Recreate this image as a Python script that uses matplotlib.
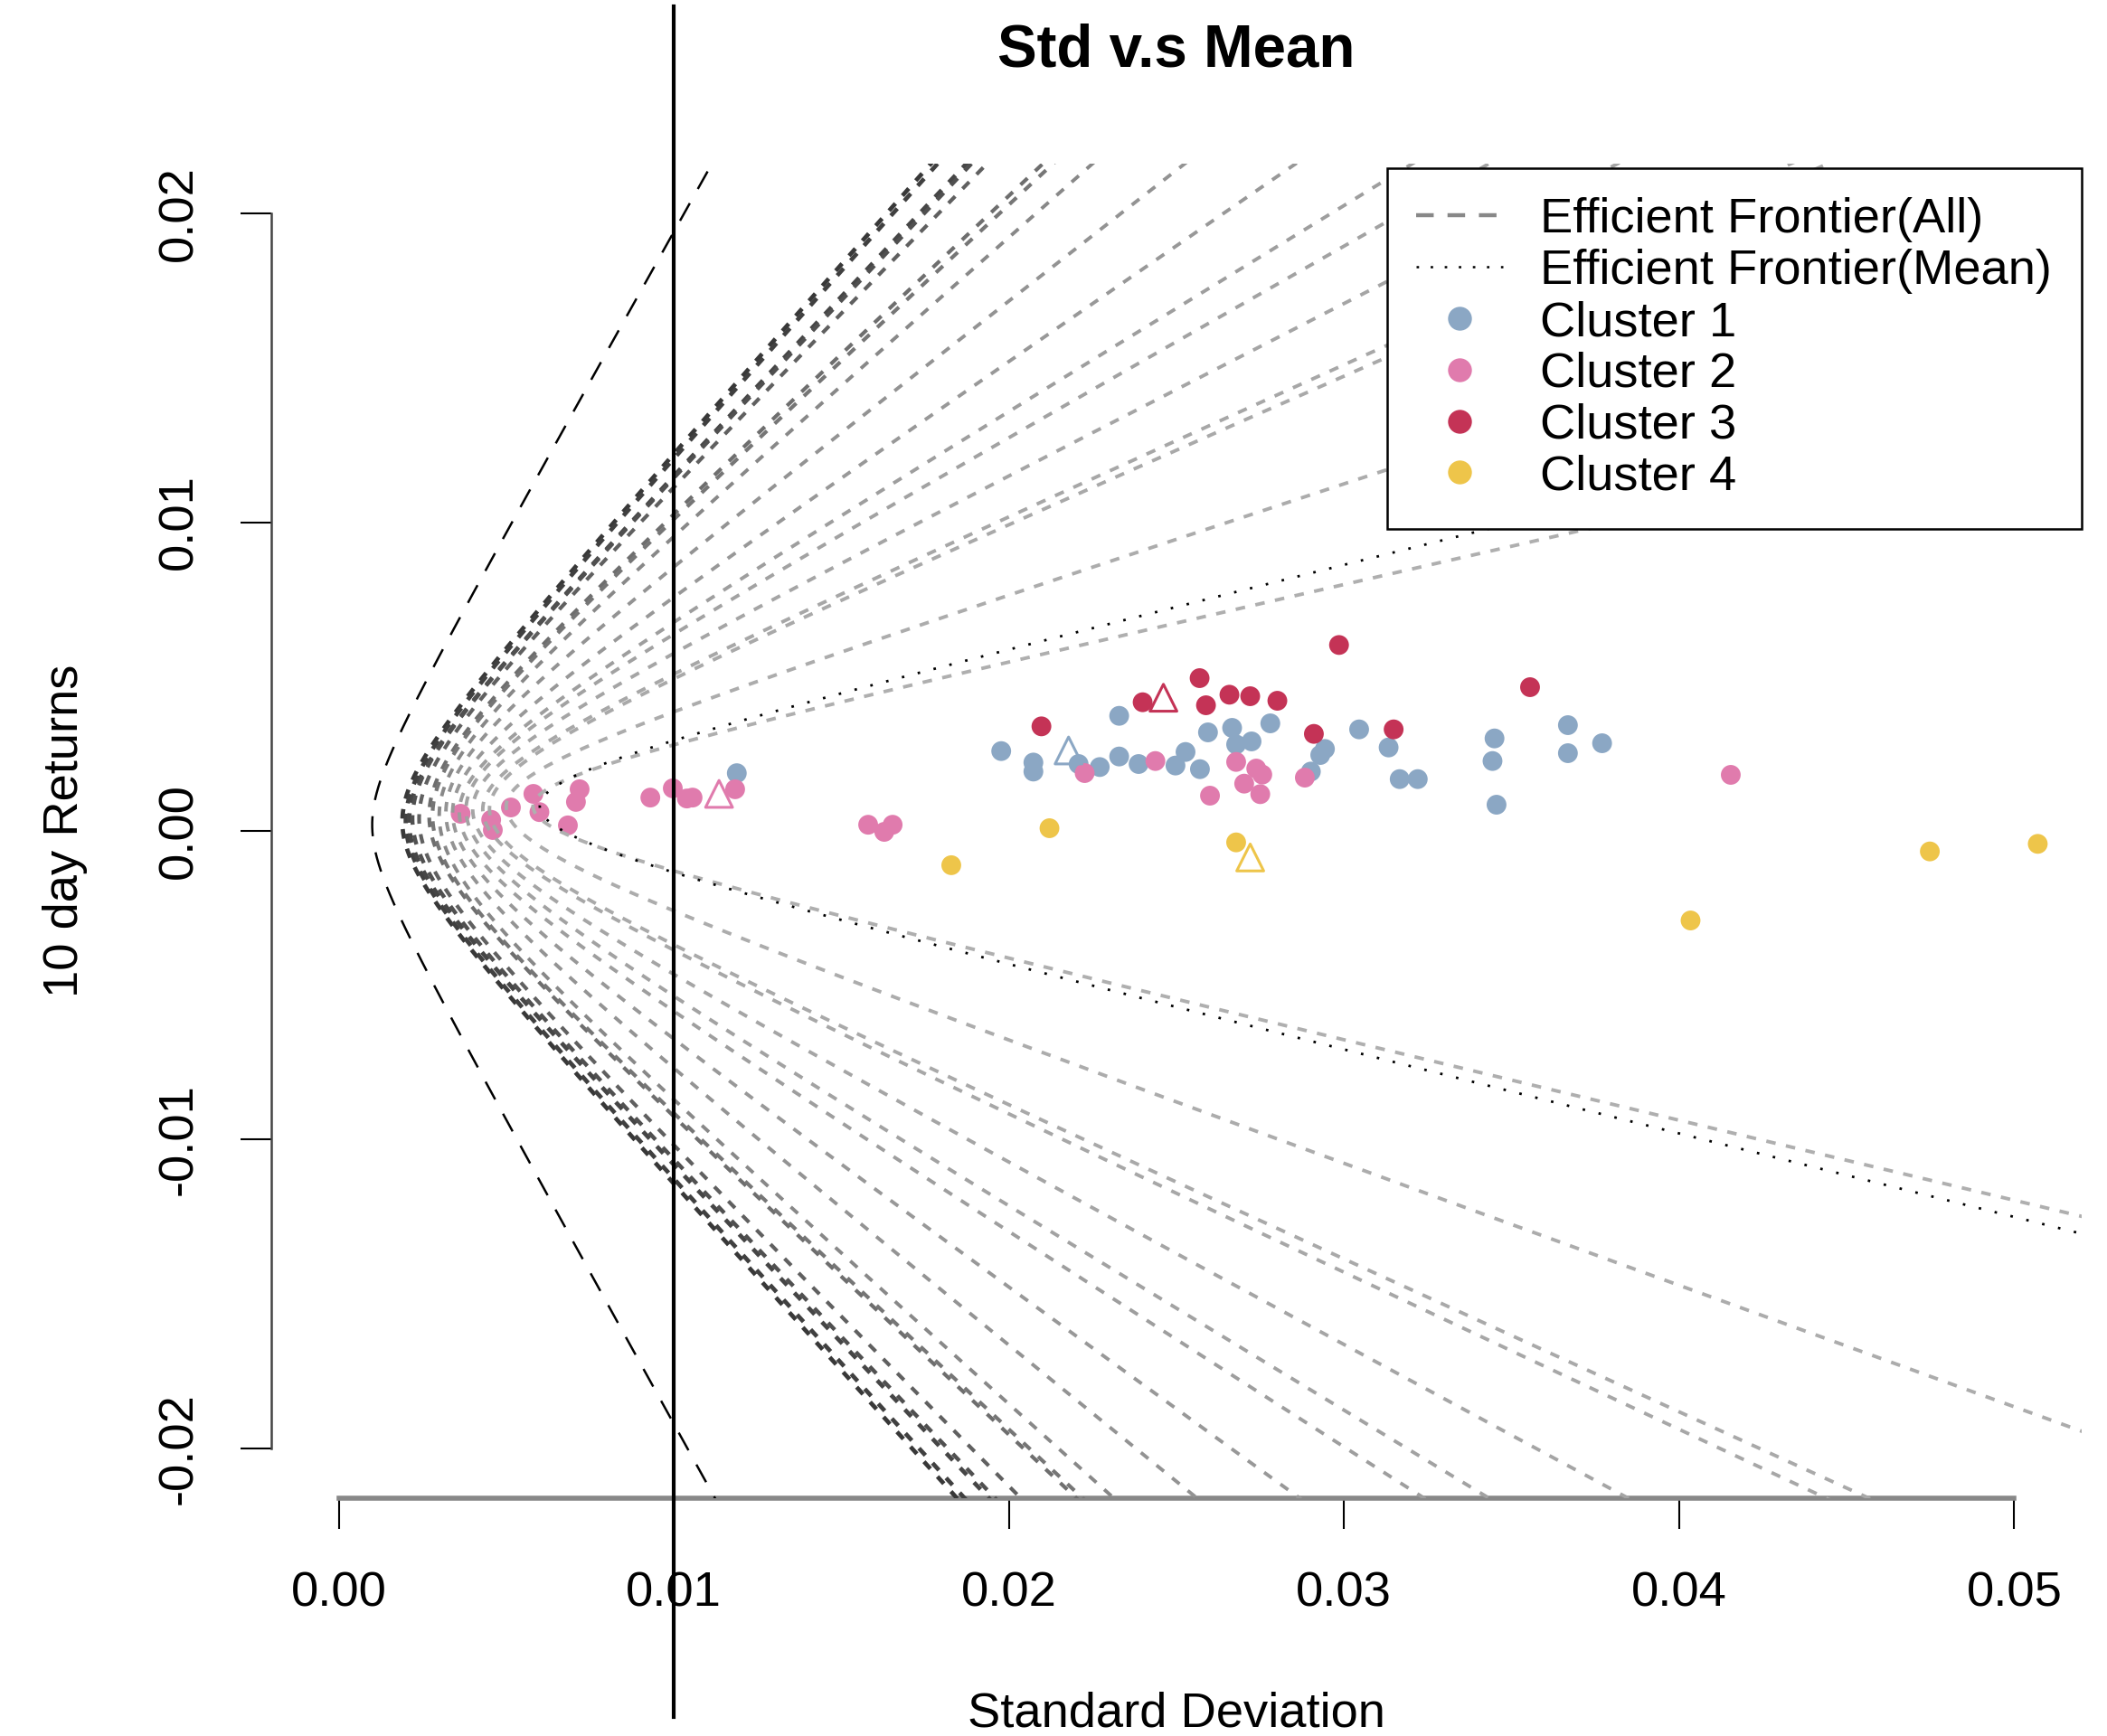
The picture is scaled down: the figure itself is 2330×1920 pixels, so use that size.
import numpy as np
import matplotlib
matplotlib.use("Agg")
import matplotlib.pyplot as plt
from matplotlib.lines import Line2D

plt.rcParams['font.family'] = ['Liberation Sans', 'DejaVu Sans']
plt.rcParams['lines.scale_dashes'] = False

# ---------------- data ----------------
x_ticks = [0.00, 0.01, 0.02, 0.03, 0.04, 0.05]
x_tick_labels = ["0.00", "0.01", "0.02", "0.03", "0.04", "0.05"]
y_ticks = [-0.02, -0.01, 0.00, 0.01, 0.02]
y_tick_labels = ["-0.02", "-0.01", "0.00", "0.01", "0.02"]

# efficient frontier of all assets (black dashed): vertex and branch slopes (mean per sd)
all_vertex_sd = 0.0010
all_vertex_mean = 0.0002
all_upper_slope = 1.930
all_lower_slope = 1.950

# efficient frontier of cluster means (black dotted)
mean_vertex_sd = 0.0060
mean_vertex_mean = 0.0008
mean_upper_slope = 0.266
mean_lower_slope = 0.268

# resampled efficient frontiers (grey dashed)
frontier_vertex_sd = [0.0019, 0.0020, 0.0021, 0.0022, 0.0024, 0.0027, 0.0028, 0.0030, 0.0032,
                      0.0034, 0.0036, 0.0038, 0.0040, 0.0043, 0.0045, 0.0050, 0.0058]
frontier_vertex_mean = [0.0003, 0.0003, 0.0003, 0.0004, 0.0004, 0.0005, 0.0005, 0.0005, 0.0006,
                        0.0006, 0.0006, 0.0007, 0.0007, 0.0007, 0.0007, 0.0008, 0.0008]
frontier_upper_slope = [1.213, 1.200, 1.145, 1.131, 1.105, 1.013, 0.999, 0.947, 0.839,
                        0.741, 0.660, 0.613, 0.551, 0.485, 0.473, 0.353, 0.244]
frontier_lower_slope = [1.194, 1.180, 1.136, 1.131, 1.089, 1.012, 1.004, 0.964, 0.874,
                        0.780, 0.690, 0.654, 0.583, 0.505, 0.491, 0.391, 0.257]
frontier_colors = ['#383838', '#404040', '#464646', '#505050', '#606060', '#6e6e6e', '#767676',
                   '#888888', '#939393', '#989898', '#9e9e9e', '#a2a2a2', '#a5a5a5', '#a7a7a7',
                   '#a9a9a9', '#acacac', '#afafaf']
frontier_widths = [1.7, 1.7, 1.7, 1.6, 1.5, 1.5, 1.5, 1.4, 1.4, 1.4, 1.4, 1.4, 1.4, 1.4, 1.4,
                   1.4, 1.4]

cluster1_sd = [0.01188, 0.01977, 0.02073, 0.02073, 0.02208, 0.02271, 0.02329, 0.02329, 0.02387,
               0.02497, 0.02527, 0.02570, 0.02594, 0.02666, 0.02678, 0.02724, 0.02780, 0.02943,
               0.02929, 0.02901, 0.03045, 0.03133, 0.03166, 0.03220, 0.03449, 0.03443, 0.03455,
               0.03668, 0.03668, 0.03770]
cluster1_mean = [0.00187, 0.002586, 0.002215, 0.001923, 0.002167, 0.002069, 0.002411, 0.003728,
                 0.002167, 0.002118, 0.002557, 0.002001, 0.003192, 0.003338, 0.002801, 0.002899,
                 0.003484, 0.002655, 0.002459, 0.001923, 0.003289, 0.002703, 0.001679, 0.001679,
                 0.002996, 0.002264, 0.000849, 0.003426, 0.002518, 0.002840]

cluster2_sd = [0.00364, 0.00455, 0.00460, 0.00514, 0.00581, 0.00599, 0.00684, 0.00719, 0.00708,
               0.00930, 0.00997, 0.01039, 0.01056, 0.01183, 0.01580, 0.01628, 0.01653, 0.02226,
               0.02437, 0.02600, 0.02678, 0.02702, 0.02738, 0.02750, 0.02756, 0.02883, 0.04154]
cluster2_mean = [0.000556, 0.00036, 0.00003, 0.00076, 0.00120, 0.00061, 0.00018, 0.00135, 0.00094,
                 0.00108, 0.00138, 0.00105, 0.00108, 0.00135, 0.00020, -0.00003, 0.00020, 0.001874,
                 0.002264, 0.001142, 0.002235, 0.001532, 0.00202, 0.001191, 0.001825, 0.001727,
                 0.001816]

cluster3_sd = [0.02097, 0.02399, 0.02569, 0.02588, 0.02658, 0.02720, 0.02801, 0.02910, 0.02985,
               0.03148, 0.03555]
cluster3_mean = [0.003387, 0.004168, 0.004949, 0.00407, 0.004412, 0.004363, 0.004216, 0.003143,
                 0.006022, 0.003289, 0.004656]

cluster4_sd = [0.01828, 0.02121, 0.02678, 0.04034, 0.04748, 0.05070]
cluster4_mean = [-0.00111, 0.000088, -0.000371, -0.00290, -0.000664, -0.000419]

center_sd = [0.02178, 0.01135, 0.02461, 0.02720]
center_mean = [0.002606, 0.00120, 0.004314, -0.000859]

cluster_labels = ["Cluster 1", "Cluster 2", "Cluster 3", "Cluster 4"]
cluster_colors = ['#8BA7C4', '#E07BAD', '#C43356', '#EEC54A']

# ---------------- figure ----------------
W, H = 2330, 1920
fig = plt.figure(figsize=(W / 200, H / 200), dpi=200)
ax_l, ax_r, ax_t, ax_b = 300.4, 2301.6, 181.4, 1656.6
ax = fig.add_axes([ax_l / W, 1 - ax_b / H, (ax_r - ax_l) / W, (ax_b - ax_t) / H])
ax.set_xlim(-0.002, 0.052)
ax.set_ylim(-0.0216, 0.0216)

mu_grid = np.linspace(-0.03, 0.03, 4001)


def frontier(s0, m0, ku, kd):
    k = np.where(mu_grid >= m0, ku, kd)
    return np.sqrt(s0 ** 2 + ((mu_grid - m0) / k) ** 2), mu_grid


for s0, m0, ku, kd, col, lw in zip(frontier_vertex_sd, frontier_vertex_mean, frontier_upper_slope,
                                   frontier_lower_slope, frontier_colors, frontier_widths):
    sx, my = frontier(s0, m0, ku, kd)
    ax.plot(sx, my, color=col, lw=lw, linestyle=(0, (3.8, 4.2)), zorder=3)

sx, my = frontier(all_vertex_sd, all_vertex_mean, all_upper_slope, all_lower_slope)
ax.plot(sx, my, color='black', lw=0.9, linestyle=(0, (8.0, 6.5)), zorder=4)

sx, my = frontier(mean_vertex_sd, mean_vertex_mean, mean_upper_slope, mean_lower_slope)
ax.plot(sx, my, color='black', lw=1.0, linestyle=(0, (1.0, 5.5)), zorder=4)

for sd, mn, col in zip([cluster1_sd, cluster2_sd, cluster3_sd, cluster4_sd],
                       [cluster1_mean, cluster2_mean, cluster3_mean, cluster4_mean],
                       cluster_colors):
    ax.scatter(sd, mn, s=62, c=col, edgecolors='none', zorder=2)

ax.scatter(center_sd, center_mean, s=115, marker='^', facecolors='none',
           edgecolors=cluster_colors, linewidths=1.1, zorder=2.5)

ax.axvline(0.01, ymin=(ax_b - 7) / (ax_b - ax_t), ymax=(ax_b - 1899) / (ax_b - ax_t),
           color='black', lw=1.5, clip_on=False, zorder=6)

# axes styling (R base graphics look)
for s in ['top', 'right']:
    ax.spines[s].set_visible(False)
ax.spines['left'].set_bounds(-0.02, 0.02)
ax.spines['left'].set_color('#444444')
ax.spines['left'].set_linewidth(0.9)
ax.spines['bottom'].set_bounds(0.0, 0.05)
ax.spines['bottom'].set_color('#888888')
ax.spines['bottom'].set_linewidth(2.0)

ax.set_xticks(x_ticks, x_tick_labels)
ax.set_yticks(y_ticks, y_tick_labels)
ax.tick_params(axis='both', length=12.2, width=0.75, color='black', labelsize=19.6)
ax.tick_params(axis='x', pad=17.0)
ax.tick_params(axis='y', pad=19.4)
for lab in ax.get_yticklabels():
    lab.set_rotation(90)
    lab.set_rotation_mode('anchor')
    lab.set_ha('center')
    lab.set_va('baseline')

fig.text(1301 / W, 1 - 74 / H, "Std v.s Mean", fontsize=23.6, fontweight='bold',
         ha='center', va='baseline')
fig.text(1301 / W, 1 - 1910 / H, "Standard Deviation", fontsize=19.6,
         ha='center', va='baseline')
fig.text(86.5 / W, 1 - 919 / H, "10 day Returns", fontsize=19.6, rotation=90,
         rotation_mode='anchor', ha='center', va='baseline')

handles = [Line2D([], [], color='#888888', lw=1.6, linestyle=(0, (7.0, 5.5))),
           Line2D([], [], color='black', lw=0.9, linestyle=(0, (1.0, 4.6)))]
for col in cluster_colors:
    handles.append(Line2D([], [], ls='none', marker='o', ms=9.5, markerfacecolor=col,
                          markeredgecolor='none'))
labels = ["Efficient Frontier(All)", "Efficient Frontier(Mean)"] + cluster_labels
leg = ax.legend(handles, labels, loc='upper right', bbox_to_anchor=(1, 0.997), borderaxespad=0,
                frameon=True, fancybox=False, edgecolor='black', framealpha=1, fontsize=19.6,
                handlelength=1.76, handletextpad=0.75, borderpad=0.6, labelspacing=0.125)
leg.get_frame().set_linewidth(0.9)
leg.set_zorder(10)

fig.savefig("out.png", dpi=200)
